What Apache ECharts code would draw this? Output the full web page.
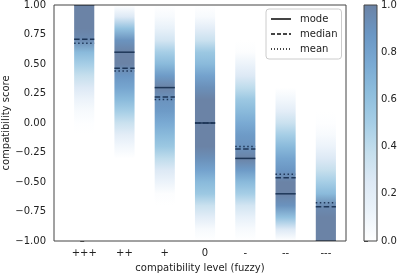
<!DOCTYPE html>
<html><head><meta charset="utf-8">
<script src="https://cdn.jsdelivr.net/npm/echarts@6/dist/echarts.min.js"></script>
<style>html,body{margin:0;padding:0;background:#fff}#c{width:400px;height:274px}</style>
</head><body><div id="c"></div>
<script>
// ---- data ----
const categories = ['+++', '++', '+', '0', '-', '--', '---'];
const yLevels = [1.0, 0.9, 0.8, 0.7, 0.6, 0.5, 0.4, 0.3, 0.2, 0.1, 0.0, -0.1, -0.2, -0.3, -0.4, -0.5, -0.6, -0.7, -0.8, -0.9, -1.0];
// membership (colour intensity) at each yLevel
const memPPP = [1, 1, 1, 0.95, 0.65, 0.5, 0.37, 0.25, 0.12, 0.05, 0.01, 0, 0, 0, 0, 0, 0, 0, 0, 0, 0];
const memPP  = [0, 0.25, 0.6, 0.9, 1, 1, 0.88, 0.78, 0.65, 0.5, 0.35, 0.2, 0.08, 0, 0, 0, 0, 0, 0, 0, 0];
const memP   = [0, 0.05, 0.15, 0.3, 0.5, 0.65, 0.85, 1, 0.9, 0.85, 0.75, 0.65, 0.55, 0.4, 0.25, 0.12, 0.02, 0, 0, 0, 0];
const memZ   = [0, 0.05, 0.2, 0.35, 0.55, 0.65, 0.8, 0.92, 1, 1, 1, 1, 1, 0.92, 0.8, 0.65, 0.55, 0.35, 0.2, 0.05, 0];
const memM   = [0, 0, 0, 0, 0.02, 0.12, 0.25, 0.4, 0.55, 0.65, 0.75, 0.85, 0.9, 1, 0.85, 0.65, 0.5, 0.3, 0.15, 0.05, 0];
const memMM  = [0, 0, 0, 0, 0, 0, 0, 0, 0.08, 0.2, 0.35, 0.5, 0.65, 0.78, 0.88, 1, 1, 0.9, 0.6, 0.25, 0];
const memMMM = [0, 0, 0, 0, 0, 0, 0, 0, 0, 0, 0.01, 0.05, 0.12, 0.25, 0.37, 0.5, 0.65, 0.95, 1, 1, 1];
const memberships = [memPPP, memPP, memP, memZ, memM, memMM, memMMM];
const modeValues   = [1.0, 0.6, 0.3, 0.0, -0.3, -0.6, -1.0];
const medianValues = [0.71, 0.465, 0.22, 0.0, -0.22, -0.465, -0.71];
const meanValues   = [0.675, 0.44, 0.2, 0.0, -0.2, -0.435, -0.675];

// ---- colormap (Blues at alpha 0.6 over white) ----
const cmapStops = ['#ffffff', '#ebf3fa', '#dde9f5', '#c5dfed', '#a6cee6', '#8ebedd', '#7aaad3', '#6b97c4', '#6b83a6'];
function hex2rgb(h) { return [parseInt(h.substr(1, 2), 16), parseInt(h.substr(3, 2), 16), parseInt(h.substr(5, 2), 16)]; }
const cmapRGB = cmapStops.map(hex2rgb);
function cmap(v) {
  v = Math.max(0, Math.min(1, v));
  const t = v * (cmapRGB.length - 1);
  const i = Math.min(Math.floor(t), cmapRGB.length - 2);
  const f = t - i;
  const a = cmapRGB[i], b = cmapRGB[i + 1];
  return 'rgb(' + [0, 1, 2].map(k => Math.round(a[k] + (b[k] - a[k]) * f)).join(',') + ')';
}

const FONT = 'DejaVu Sans';
const TXT = '#222';
const LINE_COL = '#1f3758';
const HALF = 0.25;

function statSeries(name, values, dash) {
  return {
    type: 'custom', name: name + '_marks', xAxisIndex: 0, yAxisIndex: 0, clip: true, z: 5,
    data: values.map((v, i) => [i, v]),
    renderItem: function (params, api) {
      const i = api.value(0), v = api.value(1);
      const a = api.coord([i - HALF, v]), b = api.coord([i + HALF, v]);
      return { type: 'line', shape: { x1: a[0], y1: a[1], x2: b[0], y2: b[1] },
        style: { stroke: LINE_COL, lineWidth: 1.5, lineDash: dash } };
    }
  };
}

const chart = echarts.init(document.getElementById('c'), null, { renderer: 'canvas' });
chart.setOption({
  animation: false,
  backgroundColor: '#fff',
  textStyle: { fontFamily: FONT },
  grid: [
    { left: 54, top: 5, width: 292, height: 236, containLabel: false, outerBoundsMode: 'none', show: true, borderColor: '#444', borderWidth: 1, backgroundColor: 'transparent', z: 10 },
    { left: 364, top: 5, width: 13, height: 236, containLabel: false, outerBoundsMode: 'none', show: true, borderColor: '#444', borderWidth: 1, backgroundColor: 'transparent', z: 10 }
  ],
  xAxis: [
    { type: 'value', gridIndex: 0, min: -0.75, max: 6.5,
      name: 'compatibility level (fuzzy)', nameLocation: 'middle', nameGap: 22, nameMoveOverlap: false,
      nameTextStyle: { fontFamily: FONT, fontSize: 10, color: TXT },
      axisLine: { show: false }, splitLine: { show: false },
      axisTick: { show: true, length: 4, lineStyle: { color: '#444' }, customValues: categories.map((c, i) => i) },
      axisLabel: { show: true, margin: 7, fontFamily: FONT, fontSize: 10, color: TXT,
        customValues: categories.map((c, i) => i), formatter: v => categories[Math.round(v)] } },
    { type: 'value', gridIndex: 1, min: 0, max: 1, show: false }
  ],
  yAxis: [
    { type: 'value', gridIndex: 0, min: -1, max: 1, interval: 0.25,
      name: 'compatibility score', nameLocation: 'middle', nameGap: 43, nameMoveOverlap: false,
      nameTextStyle: { fontFamily: FONT, fontSize: 10, color: TXT },
      axisLine: { show: false }, splitLine: { show: false },
      axisTick: { show: true, length: 4, lineStyle: { color: '#444' } },
      axisLabel: { margin: 8, fontFamily: FONT, fontSize: 10, color: TXT,
        formatter: v => v.toFixed(2).replace('-', '\u2212') } },
    { type: 'value', gridIndex: 1, min: 0, max: 1, interval: 0.2, position: 'right',
      axisLine: { show: false }, splitLine: { show: false },
      axisTick: { show: true, length: 4, lineStyle: { color: '#444' } },
      axisLabel: { margin: 4, fontFamily: FONT, fontSize: 10, color: TXT, formatter: v => v.toFixed(1) } }
  ],
  legend: {
    left: 266, top: 9, orient: 'vertical', itemWidth: 20, itemHeight: 10, itemGap: 5,
    padding: [5, 4, 5, 4], backgroundColor: 'rgba(255,255,255,0.85)', borderColor: '#ccc', borderWidth: 1, borderRadius: 3,
    itemStyle: { opacity: 0 },
    textStyle: { fontFamily: FONT, fontSize: 10, color: TXT, padding: [0, 0, 0, 4] },
    data: ['mode', 'median', 'mean'], z: 20
  },
  series: [
    { type: 'custom', name: 'columns', xAxisIndex: 0, yAxisIndex: 0, z: 2,
      data: categories.map((c, i) => [i]),
      renderItem: function (params, api) {
        const i = api.value(0);
        const m = memberships[params.dataIndex];
        const p0 = api.coord([i - HALF, 1]), p1 = api.coord([i + HALF, -1]);
        const stops = yLevels.map((y, k) => ({ offset: (1 - y) / 2, color: cmap(m[k]) }));
        return { type: 'rect', shape: { x: p0[0], y: p0[1], width: p1[0] - p0[0], height: p1[1] - p0[1] },
          style: { fill: new echarts.graphic.LinearGradient(0, 0, 0, 1, stops) } };
      } },
    statSeries('mode', modeValues, null),
    statSeries('median', medianValues, [5.5, 2.4]),
    statSeries('mean', meanValues, [1.5, 2.5]),
    { type: 'line', name: 'mode', data: [], symbol: 'none', lineStyle: { color: '#444', width: 1.2, type: 'solid' }, itemStyle: { color: '#444' } },
    { type: 'line', name: 'median', data: [], symbol: 'none', lineStyle: { color: '#444', width: 1.2, type: [4, 2] }, itemStyle: { color: '#444' } },
    { type: 'line', name: 'mean', data: [], symbol: 'none', lineStyle: { color: '#444', width: 1.2, type: [1, 2] }, itemStyle: { color: '#444' } },
    { type: 'custom', name: 'colorbar', xAxisIndex: 1, yAxisIndex: 1, z: 2,
      data: [[0]],
      renderItem: function (params, api) {
        const p0 = api.coord([0, 1]), p1 = api.coord([1, 0]);
        const stops = cmapStops.map((c, k) => ({ offset: 1 - k / (cmapStops.length - 1), color: c }));
        return { type: 'rect', shape: { x: p0[0], y: p0[1], width: p1[0] - p0[0], height: p1[1] - p0[1] },
          style: { fill: new echarts.graphic.LinearGradient(0, 0, 0, 1, stops) } };
      } }
  ]
});
</script></body></html>
